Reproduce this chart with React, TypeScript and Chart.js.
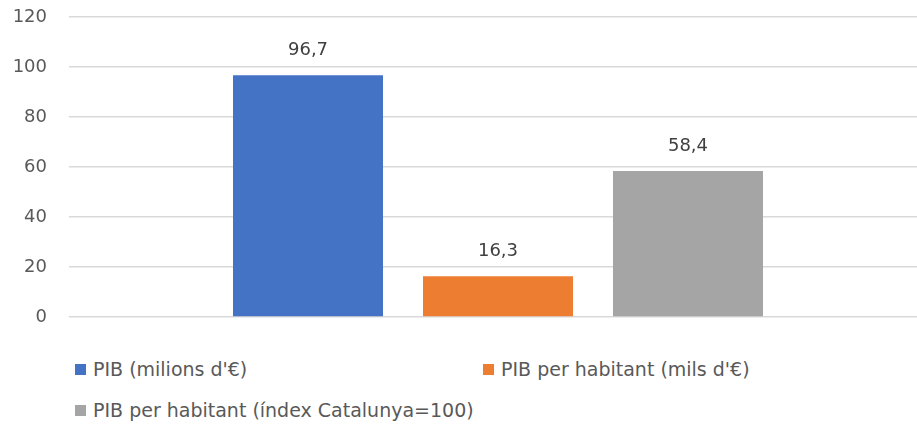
import React, { useEffect, useRef } from "react";
import { Chart, registerables } from "chart.js";

Chart.register(...registerables);

const categories = [""];
const seriesNames = ["PIB (milions d'€)", "PIB per habitant (mils d'€)", "PIB per habitant (índex Catalunya=100)"];
const seriesValues = [96.7, 16.3, 58.4];
const seriesColors = ["#4472C4", "#ED7D31", "#A5A5A5"];
const yTicks = [0, 20, 40, 60, 80, 100, 120];

const FONT = "'DejaVu Sans', sans-serif";

const labelPlugin = {
  id: "valueLabels",
  afterDatasetsDraw(chart: any) {
    const ctx = chart.ctx;
    ctx.save();
    ctx.font = `18px ${FONT}`;
    ctx.fillStyle = "#404040";
    ctx.textAlign = "center";
    ctx.textBaseline = "middle";
    chart.data.datasets.forEach((ds: any, i: number) => {
      const meta = chart.getDatasetMeta(i);
      meta.data.forEach((bar: any, j: number) => {
        const v = ds.data[j];
        ctx.fillText(String(v).replace(".", ","), bar.x, bar.y - 25);
      });
    });
    ctx.restore();
  },
};

export default function App() {
  const ref = useRef<HTMLCanvasElement>(null);
  useEffect(() => {
    document.body.style.margin = "0";
    const chart = new Chart(ref.current!, {
      type: "bar",
      data: {
        labels: categories,
        datasets: seriesNames.map((name, i) => ({
          label: name,
          data: [seriesValues[i]],
          backgroundColor: seriesColors[i],
          categoryPercentage: 0.6643,
          barPercentage: 150 / 190,
        })),
      },
      options: {
        responsive: false,
        animation: false,
        layout: { padding: { top: 17, bottom: 23, left: 0, right: 0 } },
        plugins: { legend: { display: false }, tooltip: { enabled: false } },
        scales: {
          x: { display: false },
          y: {
            min: 0,
            max: 120,
            afterBuildTicks: (scale: any) => {
              scale.ticks = yTicks.map((v) => ({ value: v }));
            },
            afterFit: (scale: any) => {
              scale.width = 69;
              scale.paddingTop = 0;
              scale.paddingBottom = 0;
            },
            border: { display: false },
            grid: { color: "#D9D9D9", lineWidth: 1.5, drawTicks: false },
            ticks: {
              padding: 22,
              color: "#595959",
              font: { family: FONT, size: 18 },
            },
          },
        },
      },
      plugins: [labelPlugin],
    });
    return () => chart.destroy();
  }, []);

  const item = (i: number, left: number, top: number) => (
    <div
      style={{
        position: "absolute",
        left,
        top,
        display: "flex",
        alignItems: "center",
        fontFamily: FONT,
        fontSize: 19,
        lineHeight: "22px",
        color: "#595959",
        whiteSpace: "nowrap",
      }}
    >
      <span style={{ display: "inline-block", width: 11, height: 11, background: seriesColors[i], marginRight: 7 }} />
      <span>{seriesNames[i]}</span>
    </div>
  );

  return (
    <div style={{ width: 917, height: 430, overflow: "hidden", position: "relative", background: "#fff" }}>
      <canvas ref={ref} width={927} height={340} style={{ display: "block" }} />
      {item(0, 75, 358)}
      {item(1, 483, 358)}
      {item(2, 75, 399)}
    </div>
  );
}
